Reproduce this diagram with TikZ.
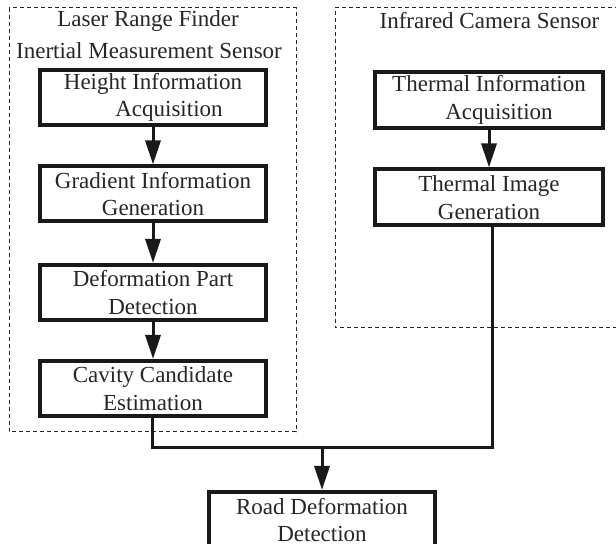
\documentclass[tikz,border=0pt]{standalone}
\usepackage{fontspec}
\setmainfont{Liberation Serif}
\usetikzlibrary{arrows.meta,calc}
\begin{document}
\begin{tikzpicture}[x=0.5pt,y=-0.5pt,
  procbox/.style={draw=black!90, line width=2pt, inner sep=0pt, minimum width=113pt, minimum height=27.5pt, align=center, font=\fontsize{11.5}{13.8}\selectfont, text=black!85},
  grouplbl/.style={inner sep=0pt, font=\fontsize{11.5}{13.8}\selectfont, text=black!85},
  groupbox/.style={draw=black!85, line width=0.5pt, dash pattern=on 2pt off 1.5pt},
  flow/.style={line width=1.5pt, draw=black!90, -{Triangle[length=12pt,width=7.5pt]}},
  link/.style={line width=1.5pt, draw=black!90}]
\useasboundingbox (0,0) rectangle (616,544);
\fill[white] (0,0) rectangle (616,544);
% groups
\draw[groupbox] (9,8) rectangle (296,432);
\draw[groupbox] (640,8) -- (335,8) -- (335,328) -- (640,328);
\node[grouplbl] (l1) at (148,21) {Laser Range Finder};
\node[grouplbl] (l2) at (149,51) {Inertial Measurement Sensor};
\node[grouplbl] (l3) at (489.5,21) {Infrared Camera Sensor};
% left chain
\node[procbox] (h) at (153,97.5) {Height Information\\\hspace*{16pt}Acquisition};
\node[procbox] (g) at (153,194) {Gradient Information\\Generation};
\node[procbox] (d) at (153,292.5) {Deformation Part\\Detection};
\node[procbox] (c) at (153,388.5) {Cavity Candidate\\Estimation};
% right chain
\node[procbox, minimum width=114pt, minimum height=28pt] (ti) at (489,100) {Thermal Information\\\hspace*{10pt}Acquisition};
\node[procbox, minimum width=114pt, minimum height=28pt] (tg) at (489,197.5) {Thermal Image\\Generation};
% result
\node[procbox, anchor=north, minimum height=28pt] (r) at (322,490) {Road Deformation\\Detection};
\coordinate (jl) at (152,448);
\coordinate (jr) at (492,448);
\coordinate (jm) at (322,448);
\draw[flow] (h) -- (g);
\draw[flow] (g) -- (d);
\draw[flow] (d) -- (c);
\draw[flow] (ti) -- (tg);
\draw[link] (c.south -| jl) -- (jl) -- (jr) -- (tg.south -| jr);
\draw[flow] (jm) -- (r.north);
\end{tikzpicture}
\end{document}
